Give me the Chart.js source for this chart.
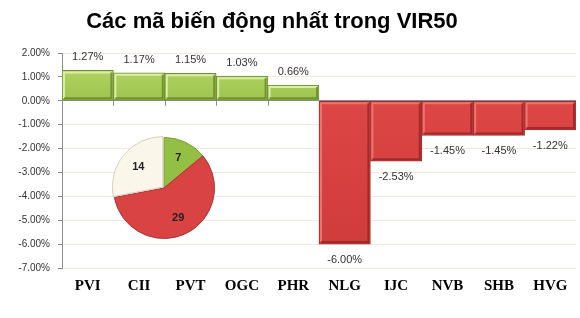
<!DOCTYPE html>
<html>
<head>
<meta charset="utf-8">
<script src="https://cdn.jsdelivr.net/npm/chart.js@4/dist/chart.umd.min.js"></script>
<style>
  html, body { margin: 0; padding: 0; background: #fff; }
  #wrap { position: relative; width: 580px; height: 318px; overflow: hidden; }
  #title {
    position: absolute; left: 0; top: 8px; width: 544px;
    text-align: center; font: bold 22px "Liberation Sans", Arial, sans-serif; color: #000;
  }
  #bars { position: absolute; left: 0; top: 0; }
  #pie { position: absolute; left: 110px; top: 134px; }
</style>
</head>
<body>
<div id="wrap">
  <canvas id="bars" width="580" height="318"></canvas>
  <canvas id="pie" width="108" height="108"></canvas>
  <div id="title">Các mã biến động nhất trong VIR50</div>
</div>
<script>
// bar data (% change)
const symbols = ['PVI', 'CII', 'PVT', 'OGC', 'PHR', 'NLG', 'IJC', 'NVB', 'SHB', 'HVG'];
const changes = [1.27, 1.17, 1.15, 1.03, 0.66, -6.00, -2.53, -1.45, -1.45, -1.22];
const yTicks = [2, 1, 0, -1, -2, -3, -4, -5, -6, -7];

// pie inset: up / down / unchanged counts
const pieLabels = ['Tăng', 'Giảm', 'Đứng giá'];
const pieCounts = [7, 29, 14];

const fmtPct = v => v.toFixed(2) + '%';

function barFill(context) {
  const { chart, dataIndex } = context;
  const area = chart.chartArea;
  if (!area) return '#999';
  const v = changes[dataIndex];
  const g = chart.ctx.createLinearGradient(0, area.top, 0, area.bottom);
  if (v >= 0) {
    g.addColorStop(0, '#b8d86c');
    g.addColorStop(0.25, '#9cc24a');
    g.addColorStop(1, '#8ab33a');
  } else {
    g.addColorStop(0, '#e04a48');
    g.addColorStop(1, '#cf3a3a');
  }
  return g;
}

// category tick marks on the zero line, bevel + value labels on the bars
const barExtras = {
  id: 'barExtras',
  beforeDatasetsDraw(chart) {
    const ctx = chart.ctx;
    const x = chart.scales.x, y = chart.scales.y;
    const y0 = y.getPixelForValue(0);
    ctx.save();
    ctx.strokeStyle = '#8c8c8c';
    ctx.lineWidth = 1;
    for (let i = 1; i < symbols.length; i++) {
      const px = Math.round((x.getPixelForValue(i - 1) + x.getPixelForValue(i)) / 2) + 0.5;
      ctx.beginPath();
      ctx.moveTo(px, y0);
      ctx.lineTo(px, y0 + 5);
      ctx.stroke();
    }
    ctx.restore();
  },
  afterDatasetsDraw(chart) {
    const ctx = chart.ctx;
    const meta = chart.getDatasetMeta(0);
    ctx.save();
    meta.data.forEach((bar, i) => {
      const v = changes[i];
      const half = bar.width / 2;
      const left = bar.x - half, right = bar.x + half;
      const top = Math.min(bar.y, bar.base), bottom = Math.max(bar.y, bar.base);
      // light inner edge on top/left
      ctx.strokeStyle = v >= 0 ? 'rgba(225,240,180,0.9)' : 'rgba(240,120,118,0.9)';
      ctx.lineWidth = 2;
      ctx.beginPath();
      ctx.moveTo(left + 2, bottom - 2);
      ctx.lineTo(left + 2, top + 2);
      ctx.lineTo(right - 2, top + 2);
      ctx.stroke();
      // dark inner edge on bottom/right
      ctx.strokeStyle = v >= 0 ? 'rgba(100,135,40,0.8)' : 'rgba(150,35,35,0.8)';
      ctx.beginPath();
      ctx.moveTo(right - 2, top + 2);
      ctx.lineTo(right - 2, bottom - 2);
      ctx.lineTo(left + 2, bottom - 2);
      ctx.stroke();
      // value label
      ctx.fillStyle = '#333';
      ctx.font = '11px "Liberation Sans", Arial, sans-serif';
      ctx.textAlign = 'center';
      ctx.textBaseline = 'middle';
      const ly = v >= 0 ? bar.y - 13 : bar.y + 16;
      ctx.fillText(fmtPct(v), bar.x, ly);
    });
    ctx.restore();
  }
};

new Chart(document.getElementById('bars'), {
  type: 'bar',
  data: {
    labels: symbols,
    datasets: [{
      data: changes,
      backgroundColor: barFill,
      borderColor: changes.map(v => v >= 0 ? '#6f8f2f' : '#9e2e2e'),
      borderWidth: 1,
      borderSkipped: false,
      categoryPercentage: 1,
      barPercentage: 1
    }]
  },
  options: {
    responsive: false,
    animation: false,
    events: [],
    layout: { padding: { top: 53, right: 4, left: 0, bottom: 0 } },
    plugins: {
      legend: { display: false },
      tooltip: { enabled: false },
      title: { display: false }
    },
    scales: {
      x: {
        grid: { display: false, drawTicks: false },
        border: { display: false },
        ticks: {
          padding: 9,
          color: '#000',
          font: { family: '"Liberation Serif", "Times New Roman", serif', size: 15, weight: 'bold' }
        },
        afterFit: s => { s.height = 50; }
      },
      y: {
        min: -7,
        max: 2,
        afterBuildTicks: s => { s.ticks = yTicks.map(v => ({ value: v })); },
        afterFit: s => { s.width = 62; },
        ticks: {
          padding: 8,
          color: '#333',
          font: { family: '"Liberation Sans", Arial, sans-serif', size: 10 },
          callback: v => fmtPct(v)
        },
        grid: {
          color: c => c.tick && c.tick.value === 0 ? '#8c8c8c' : '#efe9dc',
          tickColor: '#8c8c8c',
          tickLength: 4
        },
        border: { display: true, color: '#8c8c8c' }
      }
    }
  },
  plugins: [barExtras]
});

// inset pie
const pieColors = ['#93bf45', '#d94343', '#faf6ea'];
const pieNumbers = {
  id: 'pieNumbers',
  afterDatasetsDraw(chart) {
    const ctx = chart.ctx;
    ctx.save();
    ctx.fillStyle = '#222';
    ctx.font = 'bold 11px "Liberation Sans", Arial, sans-serif';
    ctx.textAlign = 'center';
    ctx.textBaseline = 'middle';
    chart.getDatasetMeta(0).data.forEach((arc, i) => {
      const p = arc.getProps(['x', 'y', 'startAngle', 'endAngle', 'outerRadius']);
      const mid = (p.startAngle + p.endAngle) / 2;
      const r = p.outerRadius * 0.66;
      ctx.fillText(String(pieCounts[i]), p.x + Math.cos(mid) * r, p.y + Math.sin(mid) * r);
    });
    ctx.restore();
  }
};

new Chart(document.getElementById('pie'), {
  type: 'pie',
  data: {
    labels: pieLabels,
    datasets: [{
      data: pieCounts,
      backgroundColor: pieColors,
      borderColor: ['#7a9f35', '#a83434', '#d8d0bd'],
      borderWidth: 1,
      offset: [0, 0, 6]
    }]
  },
  options: {
    responsive: false,
    animation: false,
    events: [],
    plugins: { legend: { display: false }, tooltip: { enabled: false } }
  },
  plugins: [pieNumbers]
});
</script>
</body>
</html>
